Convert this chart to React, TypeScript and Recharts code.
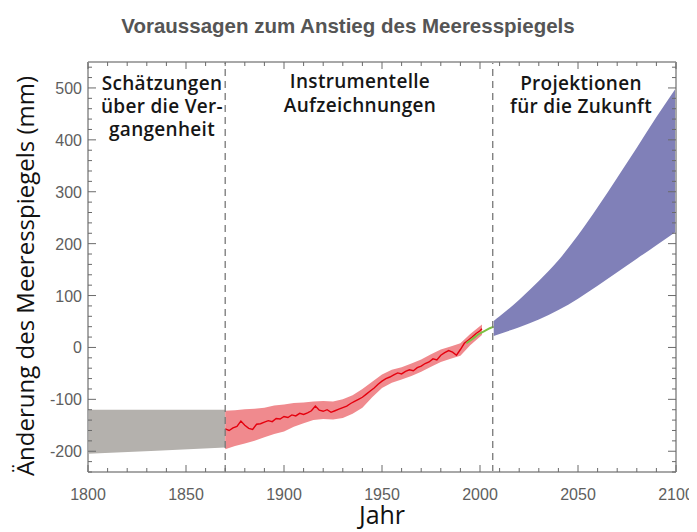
import React from 'react';
import { ComposedChart, Area, Line, XAxis, YAxis, ReferenceLine } from 'recharts';

// Vergangenheit (Schätzungen)
const grayYears = [1800, 1835, 1870];
const grayLow = [-205, -199, -193];
const grayHigh = [-120, -120, -120];

// Instrumentelle Aufzeichnungen – Unsicherheitsband
const redBandYears = [1870, 1875, 1880, 1885, 1890, 1895, 1900, 1905, 1910, 1915, 1920, 1925, 1930, 1935, 1940, 1945, 1950, 1955, 1960, 1965, 1970, 1975, 1980, 1985, 1990, 1995, 2001];
const redBandLow = [-196, -190, -185, -180, -173, -167, -162, -153, -146, -140, -138, -139, -136, -128, -116, -96, -78, -68, -62, -55, -47, -37, -28, -22, -16, 4, 24];
const redBandHigh = [-122, -121, -119, -118, -116, -112, -110, -107, -106, -104, -103, -104, -100, -92, -80, -66, -52, -43, -38, -31, -23, -13, -4, 2, 8, 26, 44];

// Instrumentelle Aufzeichnungen – Pegelmessungen
const redYears = [1870, 1872, 1874, 1876, 1878, 1880, 1882, 1884, 1886, 1888, 1890, 1892, 1894, 1896, 1898, 1900, 1902, 1904, 1906, 1908, 1910, 1912, 1914, 1916, 1918, 1920, 1922, 1924, 1926, 1928, 1930, 1932, 1934, 1936, 1938, 1940, 1942, 1944, 1946, 1948, 1950, 1952, 1954, 1956, 1958, 1960, 1962, 1964, 1966, 1968, 1970, 1972, 1974, 1976, 1978, 1980, 1982, 1984, 1986, 1988, 1990, 1992, 1994, 1996, 1998, 2000, 2001];
const redValues = [-157, -160, -155, -152, -142, -150, -156, -158, -148, -147, -144, -141, -143, -137, -138, -133, -135, -130, -132, -127, -129, -126, -122, -113, -121, -123, -120, -125, -122, -119, -116, -113, -108, -104, -100, -96, -90, -84, -78, -71, -65, -60, -57, -53, -49, -51, -46, -43, -45, -39, -36, -31, -28, -22, -24, -15, -10, -6, -9, -15, -4, 8, 14, 20, 27, 32, 36];

// Satellitenmessungen
const greenYears = [1993, 1996, 1999, 2002, 2005, 2007];
const greenValues = [8, 16, 25, 31, 37, 40];

// Projektionen
const blueYears = [2007, 2010, 2020, 2030, 2040, 2050, 2060, 2070, 2080, 2090, 2100];
const blueLow = [22, 26, 39, 54, 72, 94, 119, 145, 171, 197, 223];
const blueHigh = [51, 60, 92, 128, 168, 216, 270, 327, 385, 444, 500];

const xTicks = [1800, 1810, 1820, 1830, 1840, 1850, 1860, 1870, 1880, 1890, 1900, 1910, 1920, 1930, 1940, 1950, 1960, 1970, 1980, 1990, 2000, 2010, 2020, 2030, 2040, 2050, 2060, 2070, 2080, 2090, 2100];
const xLabels = [1800, 1850, 1900, 1950, 2000, 2050, 2100];
const yTicks = [-240, -220, -200, -180, -160, -140, -120, -100, -80, -60, -40, -20, 0, 20, 40, 60, 80, 100, 120, 140, 160, 180, 200, 220, 240, 260, 280, 300, 320, 340, 360, 380, 400, 420, 440, 460, 480, 500, 520, 540];
const yLabels = [-200, -100, 0, 100, 200, 300, 400, 500];

const rowsMap = new Map<number, any>();
const put = (year: number, key: string, val: any) => {
  const r = rowsMap.get(year) ?? { year };
  r[key] = val;
  rowsMap.set(year, r);
};
grayYears.forEach((y, i) => put(y, 'gray', [grayLow[i], grayHigh[i]]));
redBandYears.forEach((y, i) => put(y, 'redBand', [redBandLow[i], redBandHigh[i]]));
redYears.forEach((y, i) => put(y, 'red', redValues[i]));
greenYears.forEach((y, i) => put(y, 'green', greenValues[i]));
blueYears.forEach((y, i) => put(y, 'blue', [blueLow[i], blueHigh[i]]));
const data = Array.from(rowsMap.values()).sort((a, b) => a.year - b.year);

const TICK_COLOR = '#6a6a6a';
const LABEL_COLOR = '#5e5e5e';
const TICK_FONT = '"Liberation Sans", Arial, sans-serif';

const BottomTick = (p: any) => {
  const v = p.payload.value;
  const major = v % 50 === 0;
  return (
    <g>
      <line x1={p.x} x2={p.x} y1={p.y} y2={p.y - (major ? 7 : 4)} stroke={TICK_COLOR} strokeWidth={1} />
      {xLabels.includes(v) && (
        <text x={p.x} y={p.y + 28} textAnchor="middle" fill={LABEL_COLOR} fontSize={16} fontFamily={TICK_FONT}>{v}</text>
      )}
    </g>
  );
};
const TopTick = (p: any) => {
  const v = p.payload.value;
  const major = v % 50 === 0;
  return <line x1={p.x} x2={p.x} y1={p.y} y2={p.y + (major ? 7 : 4)} stroke={TICK_COLOR} strokeWidth={1} />;
};
const LeftTick = (p: any) => {
  const v = p.payload.value;
  const major = v % 100 === 0;
  return (
    <g>
      <line x1={p.x} x2={p.x + (major ? 8 : 4)} y1={p.y} y2={p.y} stroke={TICK_COLOR} strokeWidth={1} />
      {yLabels.includes(v) && (
        <text x={p.x - 6} y={p.y + 6} textAnchor="end" fill={LABEL_COLOR} fontSize={16} fontFamily={TICK_FONT}>{v}</text>
      )}
    </g>
  );
};
const RightTick = (p: any) => {
  const v = p.payload.value;
  const major = v % 100 === 0;
  return <line x1={p.x} x2={p.x - (major ? 8 : 4)} y1={p.y} y2={p.y} stroke={TICK_COLOR} strokeWidth={1} />;
};

const ANN_FONT = '"Open Sans", "Noto Sans", sans-serif';

export default function App() {
  const axisLine = { stroke: '#a8a8a8', strokeWidth: 2 };
  return (
    <div style={{ position: 'relative', width: 689, height: 524 }}>
      <ComposedChart width={689} height={524} data={data} margin={{ top: 44, right: 11, bottom: 0, left: 0 }}>
        <XAxis dataKey="year" type="number" domain={[1800, 2100]} ticks={xTicks} interval={0}
          tick={<BottomTick />} tickLine={false} tickSize={0} tickMargin={0} height={60} axisLine={axisLine} allowDataOverflow />
        <XAxis xAxisId="top" orientation="top" dataKey="year" type="number" domain={[1800, 2100]} ticks={xTicks} interval={0}
          tick={<TopTick />} tickLine={false} tickSize={0} tickMargin={0} height={10} axisLine={axisLine} allowDataOverflow />
        <YAxis type="number" domain={[-240, 550]} ticks={yTicks} interval={0}
          tick={<LeftTick />} tickLine={false} tickSize={0} tickMargin={0} width={80} axisLine={axisLine} allowDataOverflow />
        <YAxis yAxisId="right" orientation="right" type="number" domain={[-240, 550]} ticks={yTicks} interval={0}
          tick={<RightTick />} tickLine={false} tickSize={0} tickMargin={0} width={10} axisLine={axisLine} allowDataOverflow />
        <Area dataKey="gray" type="linear" stroke="none" fill="#b4b1ad" fillOpacity={1} connectNulls isAnimationActive={false} />
        <Area dataKey="redBand" type="linear" stroke="none" fill="#f08a8e" fillOpacity={1} connectNulls isAnimationActive={false} />
        <Area dataKey="blue" type="monotone" stroke="none" fill="#8080b8" fillOpacity={1} connectNulls isAnimationActive={false} />
        <Line dataKey="red" type="linear" stroke="#e5000e" strokeWidth={1.4} dot={false} connectNulls isAnimationActive={false} />
        <Line dataKey="green" type="linear" stroke="#7cc142" strokeWidth={2} dot={false} connectNulls isAnimationActive={false} />
        <ReferenceLine x={1870} stroke="#777" strokeWidth={1.3} strokeDasharray="7 5" />
        <ReferenceLine x={2006.5} stroke="#777" strokeWidth={1.3} strokeDasharray="7 5" />
      </ComposedChart>
      <svg width={689} height={524} style={{ position: 'absolute', left: 0, top: 0, pointerEvents: 'none', overflow: 'visible' }}>
        <text x={340} y={25} textAnchor="middle" fill="#555" fontSize={20.5} fontWeight="bold" fontFamily={TICK_FONT}>
          Voraussagen zum Anstieg des Meeresspiegels
        </text>
        <g fontFamily={ANN_FONT} fontSize={19} fontWeight={600} fill="#161616" textAnchor="middle" letterSpacing={0.3}>
          <text x={154} y={82}>Schätzungen</text>
          <text x={154} y={105}>über die Ver-</text>
          <text x={154} y={128}>gangenheit</text>
          <text x={352} y={80}>Instrumentelle</text>
          <text x={352} y={104}>Aufzeichnungen</text>
          <text x={573} y={82}>Projektionen</text>
          <text x={573} y={105}>für die Zukunft</text>
        </g>
        <text transform="translate(26,268) rotate(-90)" textAnchor="middle" fill="#111" fontSize={24} fontFamily={ANN_FONT}>
          Änderung des Meeresspiegels (mm)
        </text>
        <text x={374} y={516} textAnchor="middle" fill="#111" fontSize={25} fontFamily={ANN_FONT}>Jahr</text>
      </svg>
    </div>
  );
}
